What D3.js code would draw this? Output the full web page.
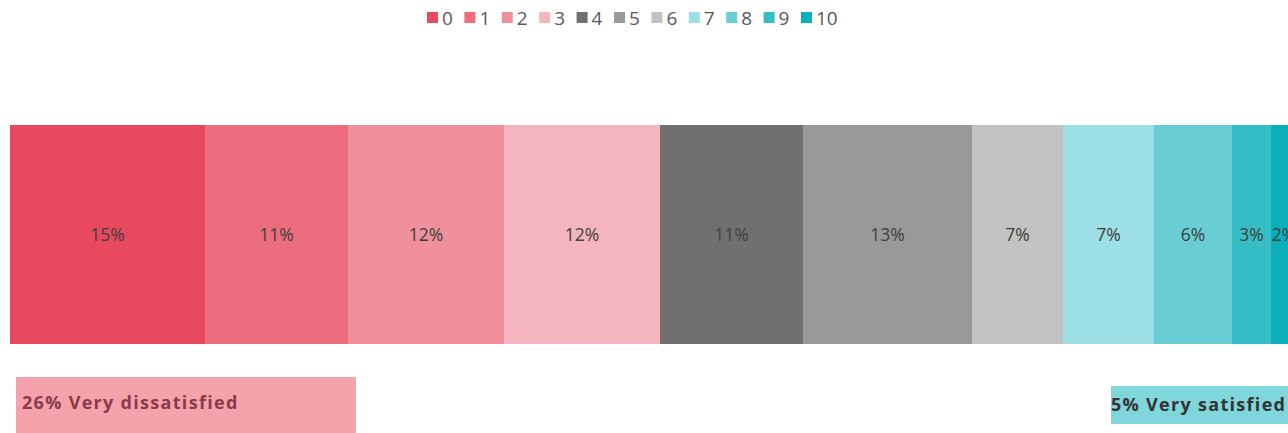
<!DOCTYPE html>
<html>
<head>
<meta charset="utf-8">
<script src="https://cdn.jsdelivr.net/npm/d3@7"></script>
<style>
  html, body { margin: 0; padding: 0; background: #fff; overflow: hidden; }
  svg { display: block; }
</style>
</head>
<body>
<svg id="chart" width="1288" height="433"></svg>
<script>
// Satisfaction score distribution (0–10), share of respondents in %
const scores = ["0", "1", "2", "3", "4", "5", "6", "7", "8", "9", "10"];
const shares = [15, 11, 12, 12, 11, 13, 7, 7, 6, 3, 2];
const colors = ["#E8495F", "#EC6D7E", "#F0909C", "#F5B5BE", "#707070", "#999999",
                "#C2C2C2", "#9CDFE4", "#69CED4", "#36BEC6", "#0AAFBA"];

// Summary call-outs below the bar
const summaryLabels = ["26% Very dissatisfied", "5% Very satisfied"];

const svg = d3.select("#chart");

const x = d3.scaleLinear().domain([0, 100]).range([10, 1310]);
const y = d3.scaleBand().domain(["all"]).range([125, 344]).padding(0);
const color = d3.scaleOrdinal().domain(scores).range(colors);

// stacked offsets
const stack = [];
let acc = 0;
scores.forEach((s, i) => { stack.push({ key: s, v: shares[i], x0: acc, x1: acc + shares[i] }); acc += shares[i]; });

const bars = svg.append("g");
bars.selectAll("rect")
  .data(stack)
  .join("rect")
  .attr("x", d => x(d.x0))
  .attr("y", y("all"))
  .attr("width", d => x(d.x1) - x(d.x0))
  .attr("height", y.bandwidth())
  .attr("fill", d => color(d.key));

bars.selectAll("text")
  .data(stack)
  .join("text")
  .attr("x", d => (x(d.x0) + x(d.x1)) / 2)
  .attr("y", y("all") + y.bandwidth() / 2 + 6)
  .attr("text-anchor", "middle")
  .attr("font-family", "'Open Sans', 'DejaVu Sans', sans-serif")
  .attr("font-size", 17.5)
  .attr("fill", "#404040")
  .text(d => d.v + "%");

// Legend
const legend = svg.append("g");
const lx = d3.scalePoint().domain(scores).range([427, 801]);
const item = legend.selectAll("g")
  .data(scores)
  .join("g")
  .attr("transform", d => `translate(${lx(d)},0)`);
item.append("rect")
  .attr("x", 0).attr("y", 12).attr("width", 11).attr("height", 11)
  .attr("fill", d => color(d));
item.append("text")
  .attr("x", 15).attr("y", 25)
  .attr("font-family", "'Open Sans', 'DejaVu Sans', sans-serif")
  .attr("font-size", 19)
  .attr("fill", "#595959")
  .text(d => d);

// Summary boxes
const boxes = [
  { label: summaryLabels[0], x0: 16, x1: 356, y0: 377, y1: 433, fill: "#F4A3AD", text: "#8C3A47", tx: 22, ty: 409 },
  { label: summaryLabels[1], x0: 1111, x1: 1300, y0: 386, y1: 424, fill: "#7FD6DB", text: "#333333", tx: 1111, ty: 411 }
];
const bg = svg.append("g");
bg.selectAll("rect")
  .data(boxes)
  .join("rect")
  .attr("x", d => d.x0).attr("y", d => d.y0)
  .attr("width", d => d.x1 - d.x0).attr("height", d => d.y1 - d.y0)
  .attr("fill", d => d.fill);
bg.selectAll("text")
  .data(boxes)
  .join("text")
  .attr("x", d => d.tx).attr("y", d => d.ty)
  .attr("font-family", "'Open Sans', 'DejaVu Sans', sans-serif")
  .attr("font-size", 18)
  .attr("font-weight", "bold")
  .attr("letter-spacing", 1.3)
  .attr("fill", d => d.text)
  .text(d => d.label);
</script>
</body>
</html>
